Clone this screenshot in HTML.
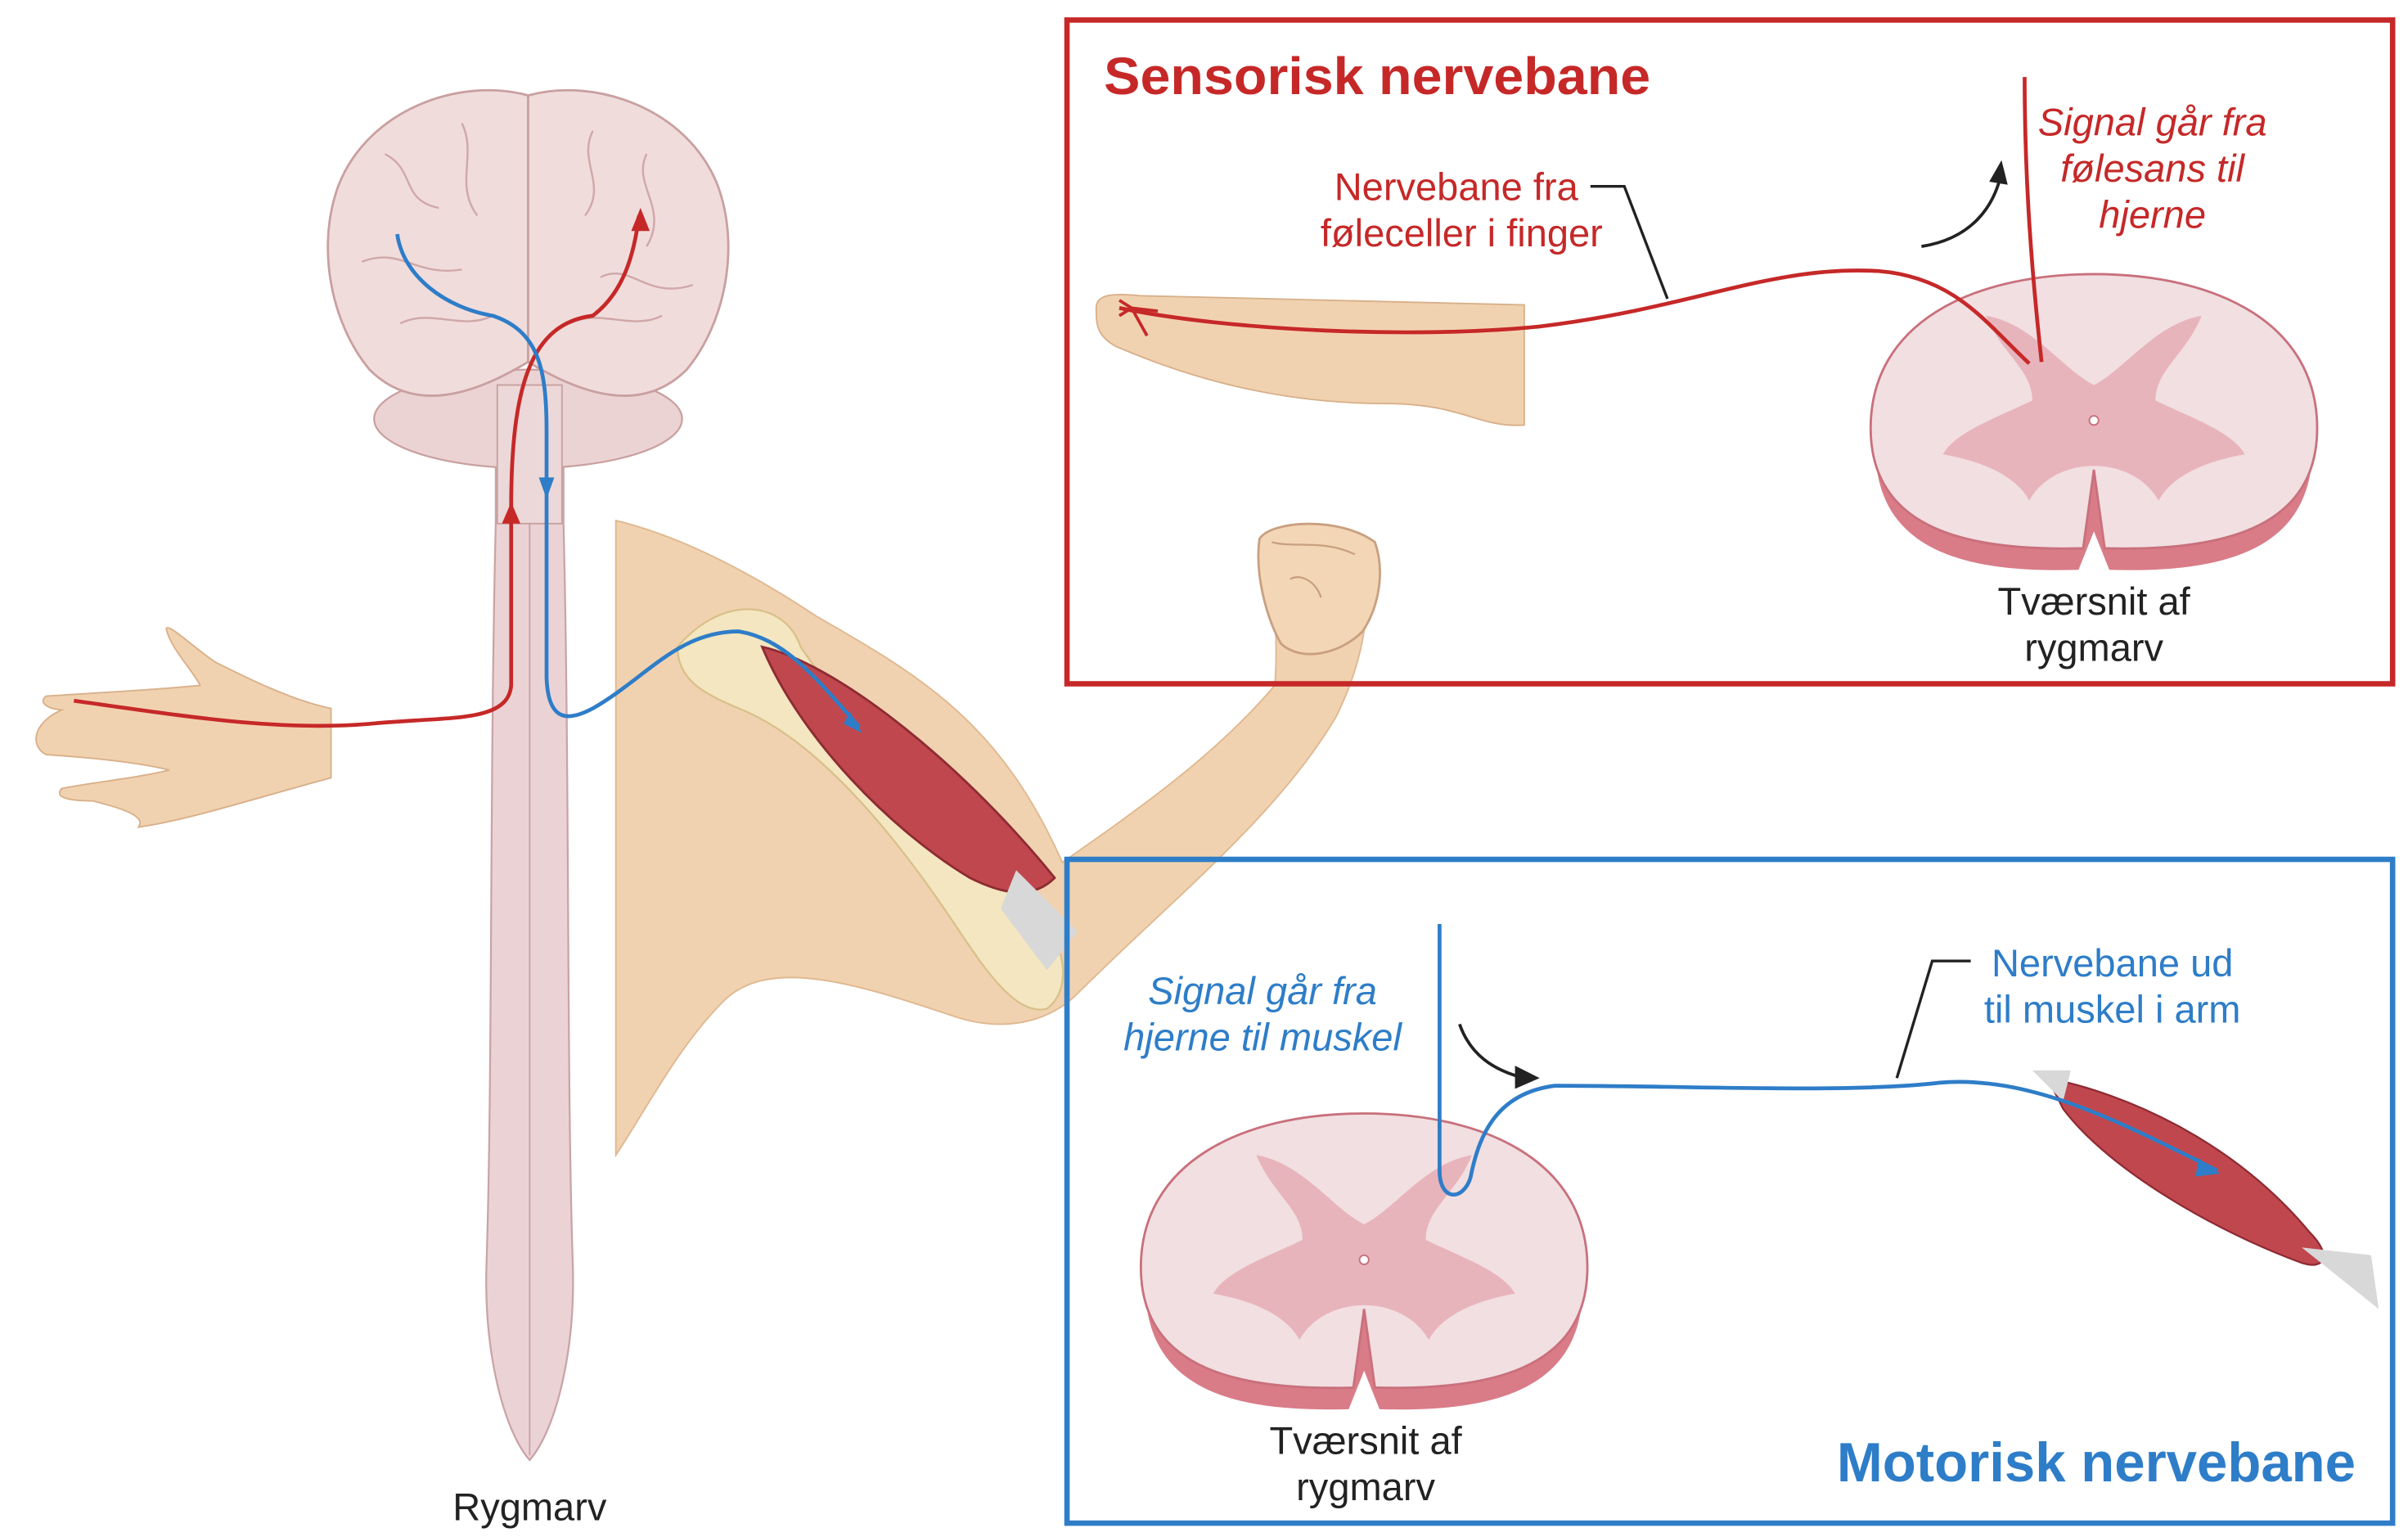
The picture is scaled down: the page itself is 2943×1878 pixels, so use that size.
<!DOCTYPE html>
<html><head><meta charset="utf-8"><style>
html,body{margin:0;padding:0;background:#fff}
svg{display:block}
text{font-family:"Liberation Sans",sans-serif}
</style></head><body>
<svg width="2943" height="1878" viewBox="0 0 1564 998" preserveAspectRatio="none" xmlns="http://www.w3.org/2000/svg">
<rect width="1564" height="998" fill="#fff"/>
<!-- arm -->
<path d="M400,338 C450,350 500,380 530,400 C600,440 650,470 690,560 C740,525 790,490 828,445 C830,420 828,395 826,372 L886,372 C890,400 885,430 868,465 C830,530 760,585 700,645 C680,665 650,670 620,660 C560,640 500,620 470,650 C440,680 420,720 400,750 Z" fill="#f1d2b0" stroke="#e0b890" stroke-width="1"/>
<path d="M818,350 C825,338 870,335 893,352 C900,372 895,395 885,410 C870,425 845,430 832,418 C822,400 815,372 818,350 Z" fill="#f3d6b6" stroke="#c9a080" stroke-width="1.5"/>
<path d="M838,376 C845,372 855,378 858,388 M826,352 C840,356 860,350 880,360" fill="none" stroke="#c9a080" stroke-width="1.2"/>
<!-- bones -->
<path d="M440,420 C470,385 510,390 520,420 C540,450 600,520 660,580 C690,600 700,640 680,655 C660,660 640,630 620,600 C580,540 530,480 480,460 C455,450 440,440 440,420 Z" fill="#f3e6c0" stroke="#d8c08a" stroke-width="1.2"/>
<!-- muscle -->
<path d="M495,420 C540,430 620,490 685,570 C670,585 650,580 630,570 C580,540 520,480 495,420 Z" fill="#c0474e" stroke="#8e2b33" stroke-width="1.5"/>
<path d="M660,565 L700,605 L680,630 L650,590 Z" fill="#d8d8d8"/>
<!-- left hand -->
<path d="M215,460 C190,455 160,440 140,430 C125,420 110,405 108,408 C110,420 125,435 130,445 C100,448 60,450 30,452 C25,456 30,460 40,461 C20,470 20,485 30,490 C60,492 90,495 110,500 C90,505 60,508 40,512 C35,518 45,520 60,520 C80,525 95,530 90,537 C120,533 160,520 215,505 Z" fill="#f1d2b0" stroke="#d8b08a" stroke-width="1"/>
<!-- spinal cord -->
<path d="M322,300 L366,300 L366,340 C370,500 368,700 372,820 C374,880 360,930 344,948 C328,930 314,880 316,820 C320,700 318,500 322,340 Z" fill="#ebd3d5" stroke="#c9a3a7" stroke-width="1.2"/>
<line x1="344" y1="330" x2="344" y2="945" stroke="#c9a3a7" stroke-width="1"/>
<!-- cerebellum & stem -->
<ellipse cx="343" cy="272" rx="100" ry="32" fill="#ecd3d3" stroke="#c9a0a0" stroke-width="1.2"/>
<rect x="323" y="250" width="42" height="90" fill="#ecd8d8" stroke="#c9a0a0" stroke-width="1"/>
<!-- brain -->
<path d="M343,62 C300,50 240,70 220,120 C205,160 215,210 240,240 C270,270 310,255 343,235 C376,255 416,270 446,240 C471,210 481,160 466,120 C446,70 386,50 343,62 Z" fill="#f1dcdc" stroke="#c9a0a0" stroke-width="1.5"/>
<path d="M343,62 L343,235" stroke="#c9a0a0" stroke-width="1.5"/>
<g fill="none" stroke="#d0a8a8" stroke-width="1.3">
<path d="M250,100 C270,110 260,130 285,135 M300,80 C310,100 295,120 310,140 M235,170 C260,160 270,180 300,175 M385,85 C375,105 395,120 380,140 M420,100 C410,120 435,135 420,160 M390,180 C410,170 420,195 450,185 M260,210 C280,200 300,215 320,205 M370,210 C390,200 410,215 430,205"/>
</g>
<!-- nerves on body -->
<path d="M48,455 C120,465 180,475 240,470 C290,465 330,470 332,445 L332,330 C332,250 345,210 385,205 C405,190 412,165 415,140" fill="none" stroke="#c62828" stroke-width="2.5"/>
<path d="M410,150 L416,135 L422,150 Z" fill="#c62828"/>
<path d="M326,340 L332,326 L338,340 Z" fill="#c62828"/>
<path d="M258,152 C262,180 290,200 320,205 C350,215 355,240 355,280 L355,440 C356,470 370,468 385,460 C420,440 440,410 480,410 C510,415 530,440 558,472" fill="none" stroke="#2e7dc8" stroke-width="2.5"/>
<path d="M350,310 L355,324 L360,310 Z" fill="#2e7dc8"/>
<path d="M548,470 L560,476 L552,462 Z" fill="#2e7dc8"/>
<text x="344" y="987" font-size="25" text-anchor="middle" fill="#222">Rygmarv</text>
<!-- sensory box -->
<rect x="693" y="13" width="861" height="431" fill="none" stroke="#c62828" stroke-width="3.5"/>
<text x="717" y="61" font-size="34" font-weight="bold" fill="#c62828" textLength="355" lengthAdjust="spacingAndGlyphs">Sensorisk nervebane</text>
<path d="M712,200 C712,192 720,190 740,192 L990,198 L990,276 C960,278 950,262 900,262 C820,262 760,240 725,225 C712,218 712,210 712,200 Z" fill="#f1d2b0" stroke="#d8b08a" stroke-width="1"/>
<path d="M1218,290 C1218,220 1280,180 1360,180 C1440,180 1502,220 1502,290 C1502,360 1440,372 1370,370 L1360,345 L1350,370 C1280,372 1218,360 1218,290 Z" fill="#d97c88"/>
<path d="M1215,278 C1215,210 1280,178 1360,178 C1440,178 1505,210 1505,278 C1505,345 1440,358 1367,356 L1360,305 L1353,356 C1280,358 1215,345 1215,278 Z" fill="#f1dfe1" stroke="#c9707c" stroke-width="1.5"/>
<path d="M1290,205 C1300,230 1320,240 1320,260 C1300,270 1270,280 1262,295 C1290,300 1310,310 1318,325 C1335,295 1385,295 1402,325 C1410,310 1430,300 1458,295 C1450,280 1420,270 1400,260 C1400,240 1420,230 1430,205 C1400,210 1380,240 1360,250 C1340,240 1320,210 1290,205 Z" fill="#e8b4bc"/>
<circle cx="1360" cy="273" r="3" fill="#fff" stroke="#c9707c"/>
<path d="M727,200 C800,215 920,220 1000,212 C1100,200 1150,172 1220,176 C1270,180 1290,210 1318,236" fill="none" stroke="#c62828" stroke-width="2.5"/>
<path d="M727,195 L735,200 L727,205 M735,200 L745,218 M735,200 L752,202" fill="none" stroke="#c62828" stroke-width="2"/>
<path d="M1326,235 C1320,180 1315,120 1315,50" fill="none" stroke="#c62828" stroke-width="2.5"/>
<path d="M1248,160 C1280,155 1295,135 1300,112" fill="none" stroke="#222" stroke-width="2"/>
<path d="M1292,118 L1300,104 L1304,120 Z" fill="#222"/>
<text x="1025" y="130" font-size="25" text-anchor="end" fill="#c62828">Nervebane fra</text>
<text x="1041" y="160" font-size="25" text-anchor="end" fill="#c62828">føleceller i finger</text>
<path d="M1033,121 L1055,121 L1083,194" fill="none" stroke="#222" stroke-width="1.8"/>
<text x="1398" y="88" font-size="25" font-style="italic" text-anchor="middle" fill="#c62828">Signal går fra</text>
<text x="1398" y="118" font-size="25" font-style="italic" text-anchor="middle" fill="#c62828">følesans til</text>
<text x="1398" y="148" font-size="25" font-style="italic" text-anchor="middle" fill="#c62828">hjerne</text>
<text x="1360" y="399" font-size="25" text-anchor="middle" fill="#222">Tværsnit af</text>
<text x="1360" y="429" font-size="25" text-anchor="middle" fill="#222">rygmarv</text>
<!-- motor box -->
<rect x="693" y="558" width="861" height="431" fill="none" stroke="#2e7dc8" stroke-width="3.5"/>
<g transform="translate(-474,545)">
<path d="M1218,290 C1218,220 1280,180 1360,180 C1440,180 1502,220 1502,290 C1502,360 1440,372 1370,370 L1360,345 L1350,370 C1280,372 1218,360 1218,290 Z" fill="#d97c88"/>
<path d="M1215,278 C1215,210 1280,178 1360,178 C1440,178 1505,210 1505,278 C1505,345 1440,358 1367,356 L1360,305 L1353,356 C1280,358 1215,345 1215,278 Z" fill="#f1dfe1" stroke="#c9707c" stroke-width="1.5"/>
<path d="M1290,205 C1300,230 1320,240 1320,260 C1300,270 1270,280 1262,295 C1290,300 1310,310 1318,325 C1335,295 1385,295 1402,325 C1410,310 1430,300 1458,295 C1450,280 1420,270 1400,260 C1400,240 1420,230 1430,205 C1400,210 1380,240 1360,250 C1340,240 1320,210 1290,205 Z" fill="#e8b4bc"/>
<circle cx="1360" cy="273" r="3" fill="#fff" stroke="#c9707c"/>
</g>
<path d="M1330,700 C1380,710 1450,740 1500,800 C1515,815 1510,825 1495,820 C1440,800 1370,760 1340,720 Z" fill="#c0474e" stroke="#8e2b33" stroke-width="1.2"/>
<path d="M1320,695 L1345,695 L1340,715 Z M1495,810 L1540,815 L1545,850 Z" fill="#d8d8d8"/>
<path d="M935,600 L935,760 C935,780 950,780 955,765 C960,740 970,710 1010,705 C1100,705 1200,710 1260,703 C1320,698 1380,730 1440,760" fill="none" stroke="#2e7dc8" stroke-width="2.5"/>
<path d="M1428,752 L1442,762 L1426,764 Z" fill="#2e7dc8"/>
<path d="M948,665 C955,685 970,695 990,700" fill="none" stroke="#222" stroke-width="2"/>
<path d="M984,692 L1000,700 L984,707 Z" fill="#222"/>
<text x="820" y="652" font-size="25" font-style="italic" text-anchor="middle" fill="#2e7dc8">Signal går fra</text>
<text x="820" y="682" font-size="25" font-style="italic" text-anchor="middle" fill="#2e7dc8">hjerne til muskel</text>
<text x="1372" y="634" font-size="25" text-anchor="middle" fill="#2e7dc8">Nervebane ud</text>
<text x="1372" y="664" font-size="25" text-anchor="middle" fill="#2e7dc8">til muskel i arm</text>
<path d="M1280,624 L1255,624 L1232,700" fill="none" stroke="#222" stroke-width="1.8"/>
<text x="887" y="944" font-size="25" text-anchor="middle" fill="#222">Tværsnit af</text>
<text x="887" y="974" font-size="25" text-anchor="middle" fill="#222">rygmarv</text>
<text x="1530" y="962" font-size="36" font-weight="bold" text-anchor="end" fill="#2e7dc8" textLength="337" lengthAdjust="spacingAndGlyphs">Motorisk nervebane</text>
</svg>
</body></html>
